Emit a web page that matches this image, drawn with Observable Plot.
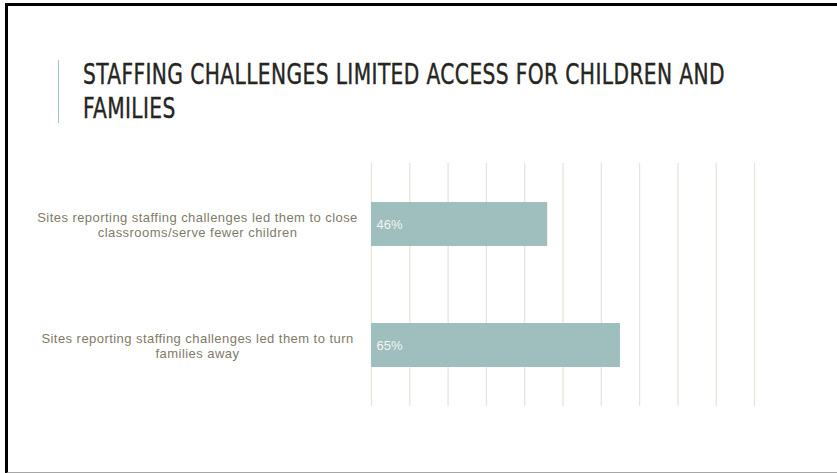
<!DOCTYPE html>
<html>
<head>
<meta charset="utf-8">
<script src="https://cdn.jsdelivr.net/npm/d3@7"></script>
<script src="https://cdn.jsdelivr.net/npm/@observablehq/plot@0.6"></script>
<style>
  html, body { margin: 0; padding: 0; background: #fff; }
  body { width: 837px; height: 473px; overflow: hidden; position: relative; }
  #frame {
    position: absolute; left: 5px; top: 3px; width: 900px; height: 466px;
    border-top: 3px solid #000; border-left: 3px solid #000; border-bottom: 2px solid #a6a6a6;
    pointer-events: none; z-index: 5;
  }
  #head { position: relative; height: 140px; }
  #accent { position: absolute; left: 58px; top: 60px; width: 1px; height: 63px; background: #9ec6cc; }
  #title {
    position: absolute; left: 83px; top: 58px;
    font-family: "Liberation Sans Narrow", "DejaVu Sans Condensed", "Roboto Condensed", "Liberation Sans", sans-serif;
    font-stretch: condensed;
    font-size: 28px; line-height: 34px; color: #26261f; letter-spacing: 0.5px;
    -webkit-text-stroke: 0.4px #26261f;
  }
  #title span { display: block; white-space: nowrap; transform-origin: left center; }
  #chart svg { display: block; }
  #chart g[aria-label="y-axis tick label"] text { letter-spacing: 0.45px; }
</style>
</head>
<body>
<div id="frame"></div>
<div id="head">
  <div id="accent"></div>
  <div id="title"><span id="t1">STAFFING CHALLENGES LIMITED ACCESS FOR CHILDREN AND</span><span id="t2">FAMILIES</span></div>
</div>
<div id="chart"></div>
<script>
const categories = [
  "Sites reporting staffing challenges led them to close\nclassrooms/serve fewer children",
  "Sites reporting staffing challenges led them to turn\nfamilies away"
];
const values = [46, 65];
const gridTicks = [0, 10, 20, 30, 40, 50, 60, 70, 80, 90, 100];

const data = categories.map((c, i) => ({category: c, value: values[i]}));

// fit title width to the reference line length
const t1 = document.getElementById("t1"), t2 = document.getElementById("t2");
const w = t1.getBoundingClientRect().width;
const k = 642 / w;
t1.style.transform = `scaleX(${k})`;
t2.style.transform = `scaleX(${k})`;

const plot = Plot.plot({
  width: 837,
  height: 333,
  marginTop: 23,
  marginBottom: 67,
  marginLeft: 371,
  marginRight: 83,
  style: {fontFamily: "'Liberation Sans', Arial, sans-serif", background: "transparent"},
  x: {domain: [0, 100], axis: null},
  y: {domain: categories, paddingInner: 0.64, paddingOuter: 0.32, label: null},
  marks: [
    Plot.gridX(gridTicks, {stroke: "#e6e4dc", strokeOpacity: 1, strokeWidth: 1.3}),
    Plot.barX(data, {y: "category", x: "value", fill: "#9ebfbd"}),
    Plot.text(data, {
      y: "category", frameAnchor: "left", dx: 5, textAnchor: "start",
      text: d => d.value + "%", fill: "#f4f4f2", fontSize: 13
    }),
    Plot.axisY({
      tickSize: 0, textAnchor: "middle", dx: -165, fontSize: 13, lineHeight: 1.2,
      fill: "#7f7a69", label: null
    })
  ]
});
document.getElementById("chart").appendChild(plot);
</script>
</body>
</html>
